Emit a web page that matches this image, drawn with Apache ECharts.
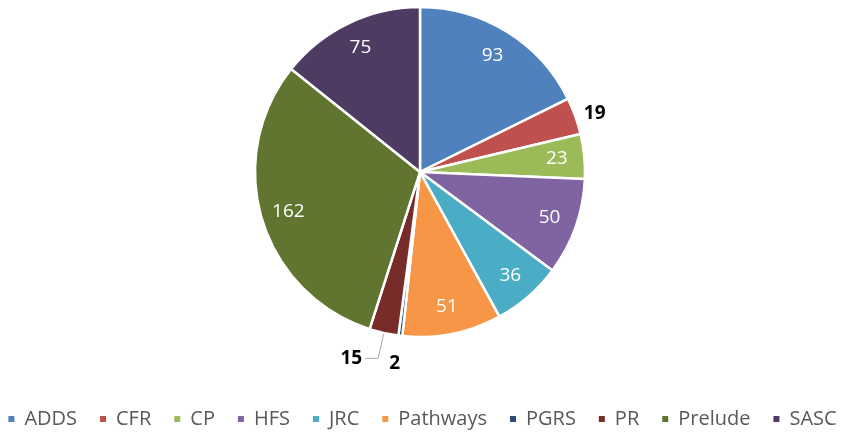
<!DOCTYPE html>
<html>
<head>
<meta charset="utf-8">
<script src="https://cdn.jsdelivr.net/npm/echarts@6/dist/echarts.min.js"></script>
<style>
html,body{margin:0;padding:0;background:#fff;}
#main{width:843px;height:433px;}
</style>
</head>
<body>
<div id="main"></div>
<script>
var categories = ['ADDS', 'CFR', 'CP', 'HFS', 'JRC', 'Pathways', 'PGRS', 'PR', 'Prelude', 'SASC'];
var values = [93, 19, 23, 50, 36, 51, 2, 15, 162, 75];
var colors = ['#4F81BD', '#C0504D', '#9BBB59', '#8064A2', '#4BACC6', '#F79646', '#2C4D75', '#772C2A', '#5F7530', '#4D3B62'];
// labels drawn outside the pie for these slices
var outsideLabels = ['CFR', 'PGRS', 'PR'];

var chart = echarts.init(document.getElementById('main'));
var center = [420, 172];

var sliceData = categories.map(function (c, i) {
  return { name: c, value: values[i], itemStyle: { color: colors[i] } };
});

// transparent ring, only used to place the inside labels near the rim
var labelData = categories.map(function (c, i) {
  var d = { name: c, value: values[i], itemStyle: { color: 'rgba(0,0,0,0)' } };
  if (outsideLabels.indexOf(c) >= 0) {
    d.label = { show: false };
  }
  return d;
});

// outside labels (same geometry as the slices)
var outData = categories.map(function (c, i) {
  var d = { name: c, value: values[i], itemStyle: { color: 'rgba(0,0,0,0)' }, label: { show: false }, labelLine: { show: false } };
  if (c === 'CFR') {
    d.label = { show: true };
    d.labelLine = { show: false, length: 6, length2: 0 };
  } else if (c === 'PGRS') {
    d.label = { show: true };
    d.labelLine = { show: false, length: 28, length2: 0 };
  } else if (c === 'PR') {
    d.label = { show: true };
    d.labelLine = { show: true, length: 26, length2: 13, lineStyle: { color: '#a6a6a6', width: 1 } };
  }
  return d;
});

var option = {
  animation: false,
  legend: {
    top: 404,
    left: 'center',
    data: categories,
    itemWidth: 8,
    itemHeight: 8,
    itemGap: 21,
    icon: 'rect',
    textStyle: { color: '#595959', fontSize: 20, fontFamily: 'Open Sans', padding: [0, 0, 0, 4] }
  },
  series: [{
    type: 'pie',
    name: 'slices',
    center: center,
    radius: [0, 165],
    startAngle: 90,
    clockwise: true,
    silent: true,
    itemStyle: { borderColor: '#fff', borderWidth: 2.5 },
    label: { show: false },
    labelLine: { show: false },
    data: sliceData
  }, {
    type: 'pie',
    name: 'inner labels',
    center: center,
    radius: [104, 165],
    startAngle: 90,
    clockwise: true,
    silent: true,
    label: {
      show: true,
      position: 'inside',
      color: '#fff',
      fontSize: 19,
      fontFamily: 'Open Sans',
      formatter: '{c}'
    },
    labelLine: { show: false },
    data: labelData
  }, {
    type: 'pie',
    name: 'outer labels',
    center: center,
    radius: [0, 165],
    startAngle: 90,
    clockwise: true,
    silent: true,
    avoidLabelOverlap: false,
    label: {
      position: 'outside',
      color: '#000',
      fontSize: 19,
      fontWeight: 'bold',
      fontFamily: 'Open Sans',
      formatter: '{c}',
      distanceToLabelLine: 3
    },
    labelLayout: function (p) {
      if (p.dataIndex === 6) {
        return { dx: 6 };
      }
    },
    data: outData
  }]
};
chart.setOption(option);
</script>
</body>
</html>
